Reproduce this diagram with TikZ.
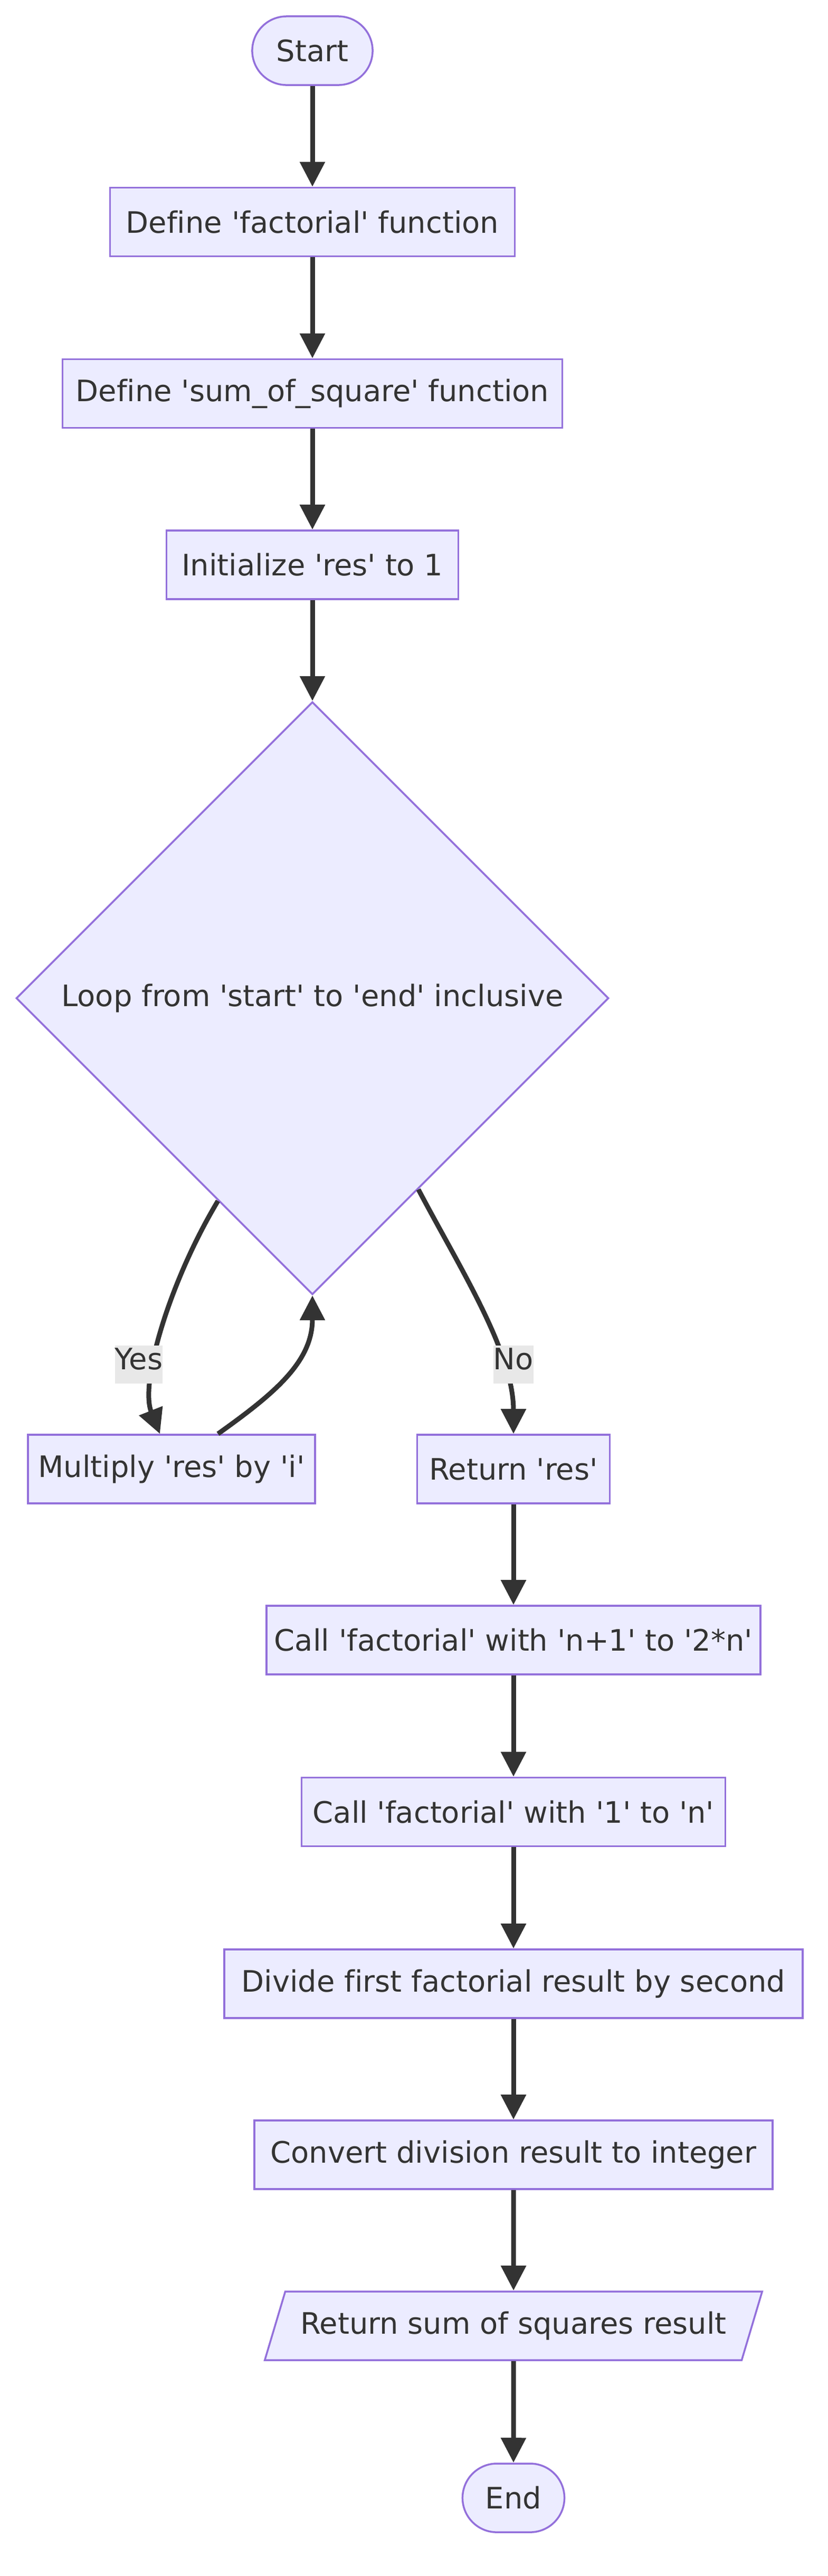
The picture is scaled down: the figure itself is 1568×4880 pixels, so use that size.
\documentclass[tikz,border=0pt]{standalone}
\usepackage{fontspec}
\newfontfamily\chartfont{DejaVu Sans}[Ligatures=NoCommon]
\usetikzlibrary{shapes.geometric,arrows.meta}
\definecolor{nodefill}{HTML}{ECECFF}
\definecolor{nodeline}{HTML}{9370DB}
\definecolor{inkgray}{HTML}{333333}
\definecolor{labelgray}{HTML}{E8E8E8}
\begin{document}
\begin{tikzpicture}[x=0.01cm,y=-0.01cm,
  >={Triangle[length=0.47cm,width=0.46cm]},
  every node/.style={font=\chartfont\fontsize{15.9}{19}\selectfont,text=inkgray},
  box/.style={draw=nodeline,fill=nodefill,line width=0.035cm,minimum height=1.3cm,inner xsep=0.15cm},
  term/.style={box,rounded corners=0.65cm},
  decision/.style={box,diamond,aspect=1,minimum width=11.22cm,minimum height=11.22cm},
  io/.style={box,trapezium,trapezium left angle=63.4,trapezium right angle=116.6,trapezium stretches body},
  lbl/.style={fill=labelgray,inner xsep=0pt,inner ysep=0pt,text height=0.45cm,text depth=0.27cm},
  link/.style={->,color=inkgray,line width=0.09cm}]
\useasboundingbox (0,0) rectangle (1568,4880);
\path
(592,96)     node[term,minimum width=2.28cm] (start) {Start}
(592,420.5)  node[box,minimum width=7.67cm]  (fact) {Define 'factorial' function}
(592,745.5)  node[box,minimum width=9.46cm]  (sumsq) {Define 'sum\_of\_square' function}
(592,1070)   node[box,minimum width=5.53cm]  (init) {Initialize 'res' to 1}
(592,1891)   node[decision] (loop) {Loop from 'start' to 'end' inclusive}
(325,2783)   node[box,minimum width=5.44cm]  (mult) {Multiply 'res' by 'i'}
(973,2783)   node[box,minimum width=3.65cm]  (ret) {Return 'res'}
(973,3107)   node[box,minimum width=9.27cm]  (calla) {Call 'factorial' with 'n+1' to '2*n'}
(973,3432.5) node[box,minimum width=8.03cm]  (callb) {Call 'factorial' with '1' to 'n'}
(973,3758)   node[box,minimum width=10.95cm] (divide) {Divide first factorial result by second}
(973,4082)   node[box,minimum width=9.81cm]  (conv) {Convert division result to integer}
(973,4406)   node[io,minimum width=9.42cm]   (retsum) {Return sum of squares result}
(973,4732)   node[term,minimum width=1.93cm] (end) {End};
\draw[link] (start)--(fact);
\draw[link] (fact)--(sumsq);
\draw[link] (sumsq)--(init);
\draw[link] (init)--(loop);
\draw[link] (loop.-115) .. controls (320,2430) and (265,2620) .. ([xshift=-0.22cm]mult.north);
\draw[link] ([xshift=0.88cm]mult.north) .. controls (520,2640) and (592,2580) .. (loop.south);
\draw[link] (loop.-61) .. controls (870,2400) and (973,2560) .. (ret.north);
\draw[link] (ret)--(calla);
\draw[link] (calla)--(callb);
\draw[link] (callb)--(divide);
\draw[link] (divide)--(conv);
\draw[link] (conv)--(retsum);
\draw[link] (retsum)--(end);
\path
(263,2585) node[lbl] (yes) {Yes}
(973,2585) node[lbl] (no) {No};
\end{tikzpicture}
\end{document}
